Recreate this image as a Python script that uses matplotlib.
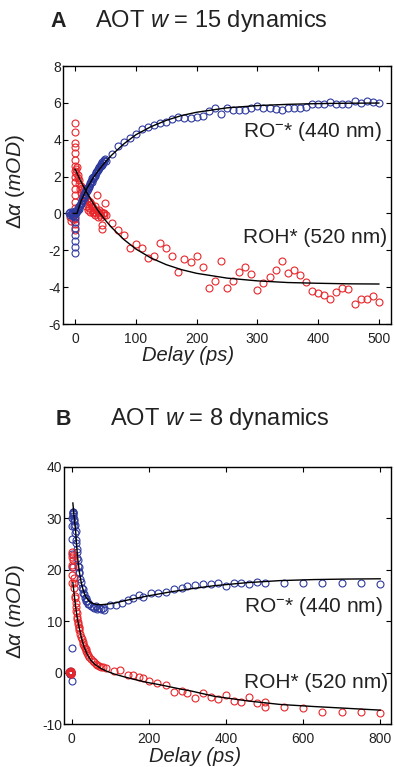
import matplotlib
matplotlib.use("Agg")
import matplotlib.pyplot as plt
import numpy as np

plt.rcParams['font.family'] = ['Liberation Sans', 'DejaVu Sans']
plt.rcParams['mathtext.fontset'] = 'custom'
plt.rcParams['mathtext.rm'] = 'Liberation Sans'
plt.rcParams['mathtext.it'] = 'Liberation Sans:italic'
plt.rcParams['mathtext.bf'] = 'Liberation Sans:bold'
plt.rcParams['axes.unicode_minus'] = False

# ---------------- Panel A : AOT w = 15 ----------------
a_blue_t = [-10, -9, -8, -7, -6, -5, -4, -3, -2, -1, 0, 1, 2, 3, 4, 5, 6, 7,
            0, 0, 0, 0, 0, 0, 0, 0,
            8, 9, 10, 11, 12, 13, 14, 15, 16, 17, 18, 19, 20, 21, 22, 23, 24, 25,
            26, 27, 28, 29, 30, 31, 32, 33, 34, 35, 36, 37, 38, 39, 40, 41, 42,
            43, 44, 45, 46, 47, 48, 49, 50,
            60, 70, 80, 90, 100, 110, 120, 130, 140, 150, 160, 170, 180, 190,
            200, 210, 220, 230, 240, 250, 260, 270, 280, 290, 300, 310, 320, 330,
            340, 350, 360, 370, 380, 390, 400, 410, 420, 430, 440, 450, 460, 470,
            480, 490, 500]
a_blue_v = [0.05, -0.1, 0.1, -0.05, 0.0, 0.1, -0.15, 0.05, -0.1, 0.1, 0.0, 0.1, 0.05, 0.15, 0.2, 0.3, 0.25, 0.4,
            -0.2, -0.45, -0.8, -1.15, -1.5, -1.8, -2.15, 0.15,
            0.45, 0.55, 0.5, 0.75, 0.7, 0.9, 0.85, 1.05, 1.0, 1.15, 1.25, 1.2, 1.4, 1.35,
            1.5, 1.45, 1.65, 1.6, 1.75, 1.7, 1.9, 1.85, 2.0, 1.95, 2.1, 2.05, 2.25, 2.2,
            2.3, 2.4, 2.35, 2.5, 2.45, 2.6, 2.55, 2.7, 2.65, 2.8, 2.75, 2.85, 2.9, 2.95, 2.85,
            3.2, 3.66, 3.88, 4.1, 4.3, 4.6, 4.7, 4.8, 4.9, 4.97, 5.1, 5.25, 5.16, 5.16,
            5.25, 5.29, 5.58, 5.74, 5.38, 5.70, 5.61, 5.61, 5.61, 5.70, 5.83, 5.74, 5.70, 5.65,
            5.61, 5.70, 5.70, 5.74, 5.76, 5.92, 5.94, 5.94, 6.07, 5.92, 5.92, 5.94, 6.12, 5.97,
            6.12, 6.03, 6.01]

a_red_t = [-9, -7, -5, -3, -1,
           0, 0, 0, 0, 0, 0, 0, 0, 0, 0, 0, 0, 0, 0, 0, 0, 0, 0,
           1, 2, 3, 4, 5, 6, 7, 8, 9, 10, 11, 12, 13, 14, 15, 16, 17, 18, 19, 20,
           21, 22, 23, 24, 25, 26, 27, 28, 29, 30, 31, 32, 33, 34, 35, 36, 37, 38,
           39, 40, 41, 42, 43, 44, 45, 46, 47, 48, 49, 50,
           60, 70, 80, 90, 100, 110, 120, 130, 140, 150, 160, 170, 180, 190, 200,
           210, 220, 230, 240, 250, 260, 270, 280, 290, 300, 310, 320, 330, 340,
           350, 360, 370, 380, 390, 400, 410, 420, 430, 440, 450, 460, 470, 480, 490, 500]
a_red_v = [-0.2, -0.4, -0.1, -0.3, 0.0,
           4.9, 4.4, 3.8, 3.6, 3.3, 2.9, 2.6, 2.3, 2.0, 1.7, 1.3, 1.0, 0.6, 0.3, 0.0, -0.3, -0.6, -0.9,
           2.4, 2.2, 2.5, 1.9, 2.1, 1.6, 1.8, 1.3, 1.5, 1.1, 1.4, 0.9, 1.2, 0.7, 1.0, 0.6, 0.9, 0.4, 0.8, 0.5,
           0.2, 0.7, 0.3, 0.6, 0.1, 0.5, 0.2, 0.4, 0.0, 0.3, 0.1, 0.4, -0.1, 0.2, 0.0, 1.0, 0.1, -0.2,
           0.2, 0.0, -0.1, 0.1, -0.2, -0.65, -0.85, 0.0, -0.1, 0.0, 0.57, -0.1,
           -0.5, -0.9, -1.17, -1.86, -1.68, -1.86, -2.44, -2.31, -1.62, -1.86, -2.31, -3.16, -2.47, -2.62, -2.31,
           -2.93, -4.03, -3.67, -2.56, -4.06, -3.65, -3.16, -2.93, -3.29, -4.15, -3.79, -3.43, -3.07, -2.58,
           -3.25, -3.07, -3.34, -3.70, -4.21, -4.30, -4.43, -4.64, -4.25, -4.06, -4.12, -4.93, -4.64, -4.64, -4.46, -4.79]

a_fit_blue_t = [-3, 3, 10, 20, 30, 40, 50, 60, 80, 100, 125, 150, 175, 200, 250, 300, 350, 400, 450, 500]
a_fit_blue_v = [0.0, 0.0, 0.70, 1.40, 1.95, 2.40, 2.80, 3.16, 3.77, 4.27, 4.71, 5.05, 5.31, 5.49, 5.73, 5.85, 5.92, 5.96, 5.98, 5.99]
a_fit_red_t = [0, 10, 20, 30, 40, 50, 60, 80, 100, 125, 150, 175, 200, 250, 300, 350, 400, 450, 500]
a_fit_red_v = [2.40, 1.69, 1.09, 0.53, 0.04, -0.38, -0.76, -1.41, -1.93, -2.42, -2.78, -3.05, -3.25, -3.51, -3.66, -3.75, -3.79, -3.82, -3.83]

# ---------------- Panel B : AOT w = 8 ----------------
b_blue_t = [-6, -5, -4, -3, -2, -1, -4, -2, 0, 0,
            0, 0.5, 1, 1.5, 2, 2.5, 3, 3.5, 4, 4.5, 5, 6, 7, 8, 9, 10, 11, 12, 13, 14,
            15, 16, 17, 18, 19, 20, 22, 24, 26, 28, 30, 32, 34, 36, 38, 40, 43, 46,
            50, 54, 58, 62, 66, 70, 75, 80,
            85, 100, 115, 130, 145, 160, 175, 185, 205, 225, 245, 265, 285,
            300, 320, 340, 360, 380, 400, 420, 440, 460, 480, 500, 550, 600, 650, 700, 750, 800]
b_blue_v = [0.1, -0.2, 0.3, 0.0, 0.2, -0.1, -0.3, 0.1, -1.6, 4.7,
            20.5, 23.0, 26.0, 28.5, 30.0, 31.0, 31.2, 30.8, 31.3, 30.5, 29.5, 29.8, 28.5, 28.8, 27.2, 27.5, 25.8, 25.2, 24.0, 23.5,
            22.3, 22.0, 20.8, 20.5, 19.3, 19.5, 18.2, 17.6, 16.5, 16.2, 15.4, 15.2, 14.6, 14.5, 14.0, 13.9, 13.4, 13.3,
            12.9, 12.8, 12.6, 12.9, 12.3, 12.6, 12.3, 12.6,
            12.2, 13.2, 13.2, 13.6, 14.1, 14.45, 15.1, 14.8, 15.4, 15.55, 15.7, 16.2, 16.4,
            16.85, 17.04, 17.2, 17.2, 17.4, 16.85, 17.4, 17.4, 17.2, 17.6, 17.4, 17.5, 17.4, 17.4, 17.5, 17.4, 17.2]

b_red_t = [-6, -5, -4, -3, -2, -1, -3, -1,
           0, 0.5, 1, 1.5, 2, 2.5, 3, 4, 5, 6, 7, 8, 9, 10, 11, 12, 13, 14, 15, 16,
           17, 18, 19, 20, 22, 24, 26, 28, 30, 32, 34, 36, 38, 40, 43, 46, 50, 54,
           58, 62, 66, 70, 75, 80,
           90, 110, 125, 145, 160, 175, 185, 200, 220, 245, 265, 285,
           300, 320, 340, 360, 380, 400, 420, 440, 460, 480, 500, 500, 550, 600, 650, 700, 750, 800]
b_red_v = [0.2, -0.1, 0.1, -0.2, 0.3, 0.0, 0.1, -0.3,
           17.5, 19.0, 21.0, 22.5, 23.5, 22.8, 22.0, 20.5, 18.5, 17.5, 16.5, 15.0, 14.5, 13.5, 12.8, 12.0, 11.5, 10.8, 10.5, 9.8,
           9.5, 8.9, 8.7, 8.2, 7.6, 7.0, 6.5, 6.0, 5.6, 5.2, 4.8, 4.5, 4.2, 3.9, 3.5, 3.1, 2.7, 2.3,
           2.0, 1.7, 1.5, 1.3, 1.1, 1.0,
           0.84, 0.38, 0.5, -0.47, -0.47, -0.8, -1.1, -1.6, -2.1, -2.4, -3.7, -3.5,
           -3.9, -5.0, -3.9, -4.7, -5.2, -4.4, -5.5, -5.65, -4.7, -6.0, -5.65, -6.6, -6.6, -6.95, -7.6, -7.7, -7.6, -7.9]

b_fit_blue_t = [3, 6, 8, 10, 13, 16, 20, 25, 30, 36, 44, 53, 65, 75, 90, 110, 144, 196, 256, 308, 369, 455, 541, 628, 714, 800]
b_fit_blue_v = [33.0, 30.5, 29.0, 27.7, 24.5, 21.9, 19.5, 17.4, 16.0, 14.8, 14.0, 13.5, 13.25, 13.2, 13.3, 13.5, 14.1, 14.9, 15.7, 16.3, 16.9, 17.5, 17.9, 18.1, 18.2, 18.25]
b_fit_red_t = [3, 6, 8, 10, 14, 19, 25, 32, 40, 49, 60, 75, 90, 110, 135, 161, 195, 231, 282, 308, 369, 455, 541, 628, 714, 800]
b_fit_red_v = [17.5, 15.5, 14.2, 12.9, 10.8, 8.9, 6.8, 5.0, 3.6, 2.45, 1.6, 0.84, 0.3, -0.27, -0.8, -1.3, -1.9, -2.4, -3.2, -3.55, -4.6, -5.5, -6.2, -6.6, -6.95, -7.3]

BLUE = '#2E3A9E'
RED = '#E8262B'
TXT = '#222222'

fig = plt.figure(figsize=(3.94, 7.67), dpi=100)
W, H = 394.0, 767.0
axA = fig.add_axes([63 / W, 1 - 324 / H, (391 - 63) / W, (324 - 66) / H])
axB = fig.add_axes([64 / W, 1 - 724 / H, (391 - 64) / W, (724 - 467) / H])

mk = dict(marker='o', linestyle='none', mfc='none', ms=5.0, mew=0.8)

axA.plot(a_red_t, a_red_v, color=RED, **mk)
axA.plot(a_blue_t, a_blue_v, color=BLUE, **mk)
axA.plot(a_fit_blue_t, a_fit_blue_v, color='black', lw=1.0)
axA.plot(a_fit_red_t, a_fit_red_v, color='black', lw=1.0)

axB.plot(b_blue_t, b_blue_v, color=BLUE, **mk)
axB.plot(b_red_t, b_red_v, color=RED, **mk)
axB.plot(b_fit_blue_t, b_fit_blue_v, color='black', lw=1.0)
axB.plot(b_fit_red_t, b_fit_red_v, color='black', lw=1.0)

axA.set_xlim(-20, 520)
axA.set_ylim(-6, 8)
axA.set_xticks([0, 100, 200, 300, 400, 500])
axA.set_yticks([-6, -4, -2, 0, 2, 4, 6, 8])
axB.set_xlim(-20, 828)
axB.set_ylim(-10, 40)
axB.set_xticks([0, 200, 400, 600, 800])
axB.set_yticks([-10, 0, 10, 20, 30, 40])

for ax in (axA, axB):
    ax.tick_params(direction='in', top=True, right=True, length=3.5, width=0.8,
                   labelsize=10, colors='black', labelcolor=TXT)
    ax.tick_params(axis='y', pad=1.5)
    ax.tick_params(axis='x', pad=6)
    for s in ax.spines.values():
        s.set_linewidth(1.0)
    ax.set_xlabel('Delay (ps)', fontsize=14.5, style='italic', color=TXT)
    ax.set_ylabel(r'$\mathrm{\Delta}\alpha$ $(mOD)$', fontsize=15, color=TXT)

axA.xaxis.set_label_coords((188 - 63) / 328, -(346 - 324) / 258)
axA.xaxis.label.set_va('top')
axA.yaxis.set_label_coords((27 - 63) / 328, (324 - 182) / 258)
axB.xaxis.set_label_coords((195.5 - 64) / 327, -(747 - 724) / 257)
axB.xaxis.label.set_va('top')
axB.yaxis.set_label_coords((27 - 64) / 327, (724 - 612) / 257)

axA.text(276, -1.62, 'ROH* (520 nm)', fontsize=15, color=TXT, va='baseline')
axA.text(276, 4.17, r'RO$^{-}$* (440 nm)', fontsize=15, color=TXT, va='baseline')
axB.text(446, -3.05, 'ROH* (520 nm)', fontsize=15, color=TXT, va='baseline')
axB.text(446, 11.85, r'RO$^{-}$* (440 nm)', fontsize=15, color=TXT, va='baseline')

fig.text(50 / W, 1 - 26.7 / H, 'A', fontsize=15.5, weight='bold', color=TXT, va='baseline')
fig.text(95 / W, 1 - 26.7 / H, r'AOT $w$ = 15 dynamics', fontsize=17, color=TXT, va='baseline')
fig.text(56 / W, 1 - 425 / H, 'B', fontsize=15.5, weight='bold', color=TXT, va='baseline')
fig.text(110 / W, 1 - 425 / H, r'AOT $w$ = 8 dynamics', fontsize=17, color=TXT, va='baseline')

fig.savefig('out.png', dpi=100)
